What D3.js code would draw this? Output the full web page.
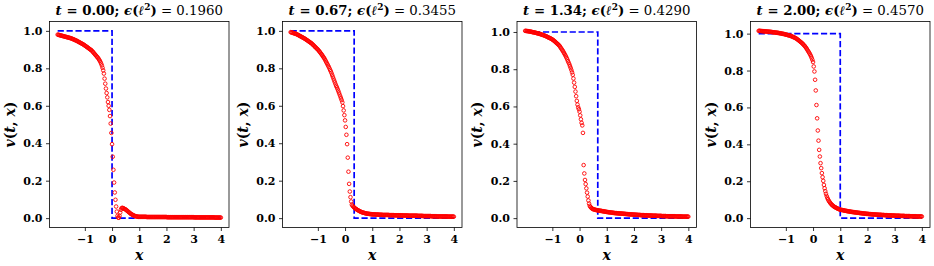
<!DOCTYPE html>
<html><head><meta charset="utf-8">
<script src="https://cdn.jsdelivr.net/npm/d3@7"></script>
<style>
html,body{margin:0;padding:0;background:#fff;}
svg text{font-family:"DejaVu Serif","Liberation Serif",serif;}
</style></head>
<body><svg id="chart" width="934" height="266"></svg>
<script>
// ---- data ----
const times = ["0.00", "0.67", "1.34", "2.00"];
const errors = ["0.1960", "0.3455", "0.4290", "0.4570"];
const shockX = [0, 0.335, 0.67, 1.0];
const exactY = [1, 1, 0, 0];
const gridStart = -2, gridEnd = 4, gridStep = 0.025;
const xTicks = [-1, 0, 1, 2, 3, 4];
const xTickLabels = ["\u22121", "0", "1", "2", "3", "4"];
const yTicks = [0, 0.2, 0.4, 0.6, 0.8, 1.0];
const yTickLabels = ["0.0", "0.2", "0.4", "0.6", "0.8", "1.0"];

const pred0 = [
.980,.979,.978,.977,.976,.975,.974,.973,.972,.971,.970,.969,.968,.967,.966,.965,.964,.963,.962,.961,.960,
.958,.957,.955,.954,.952,.950,.949,.947,.945,.943,.941,.939,.937,.935,.933,.931,.929,.927,.924,.922,
.919,.917,.914,.911,.909,.906,.903,.901,.898,.895,
.891,.887,.883,.878,.874,.870,.865,.861,.857,.852,
.846,.840,.833,.825,.815,.803,.789,.772,
.745,.718,.692,.668,.645,.620,.600,.578,.545,.505,.455,.395,
.328,.258,.190,.137,.098,.062,.035,.012,
.003,.002,.012,.030,.045,.053,.055,.054,.052,.050,.048,.046,
.043,.040,.037,.034,.031,.028,.025,.022,.020,.018,.016,.014,.012,.011,.010,.009,.008,.008,.007,.007,
.007,.007,.007,.007,.007,.007,.007,.007,.007,.007,.006,.006,.006,.006,.006,.006,.006,.006,.006,.006,
.006,.006,.006,.006,.006,.006,.006,.006,.006,.006,.006,.006,.006,.006,.006,.006,.006,.006,.006,.006,
.005,.005,.005,.005,.005,.005,.005,.005,.005,.005,.005,.005,.005,.005,.005,.005,.005,.005,.005,.005,
.005,.005,.005,.005,.005,.005,.005,.005,.005,.005,.005,.005,.005,.005,.005,.005,.005,.005,.005,.005,
.004,.004,.004,.004,.004,.004,.004,.004,.004,.004,.004,.004,.004,.004,.004,.004,.004,.004,.004,.004,
.004,.004,.004,.004,.004,.004,.004,.004,.004,.004,.003,.003,.003,.003,.003,.003,.003,.003,.003,.003
];
const pred1 = [
.993,.992,.991,.990,.988,.987,.986,.985,.983,.982,.980,
.978,.976,.974,.972,.970,.968,.966,.964,.962,.960,
.958,.955,.953,.950,.948,.945,.943,.940,.938,.935,
.932,.929,.925,.922,.918,.914,.911,.907,.904,.900,
.896,.891,.887,.882,.877,.872,.867,.861,.856,.850,
.843,.836,.829,.822,.815,.808,.800,.792,.784,.775,
.765,.755,.745,.735,.725,.715,
.706,.698,.689,.680,
.670,.660,.650,.640,
.630,.618,.598,.575,.550,.522,
.487,.445,.395,.323,.248,.183,.142,.112,.089,.072,
.066,.062,.058,.055,.052,.049,.047,.044,.042,.040,.038,.036,.034,.033,.031,.030,.029,.028,.027,.026,
.025,.024,.024,.023,.023,.022,.022,.021,.021,.020,
.020,.020,.020,.020,.019,.019,.019,.019,.019,.018,.018,.018,.018,.018,.017,.017,.017,.017,.017,.017,
.017,.017,.017,.017,.016,.016,.016,.016,.016,.016,.016,.016,.015,.015,.015,.015,.015,.015,.015,.015,
.015,.015,.015,.015,.014,.014,.014,.014,.014,.014,.014,.014,.013,.013,.013,.013,.013,.013,.013,.013,
.013,.013,.013,.013,.013,.013,.012,.012,.012,.012,.012,.012,.012,.012,.011,.011,.011,.011,.011,.011,
.011,.011,.011,.011,.011,.011,.010,.010,.010,.010,.010,.010,.010,.010,.009,.009,.009,.009,.009,.009,
.009,.009,.009,.009,.009,.009,.009,.009,.009,.009,.008,.008,.008,.008,.008,.008,.008,.008,.008,.008
];
const pred2 = [
1.006,1.006,1.005,1.005,1.004,1.004,1.003,1.002,1.002,1.001,1.000,
.999,.998,.998,.997,.996,.995,.994,.993,.992,.991,
.990,.989,.988,.986,.985,.984,.983,.981,.980,.978,
.977,.975,.973,.971,.969,.968,.966,.964,.962,.960,
.957,.954,.951,.948,.945,.941,.938,.935,.931,.928,
.923,.917,.912,.906,.901,.895,
.888,.882,.875,.868,
.860,.852,.843,.835,
.826,.816,.806,.795,
.783,.770,.750,.728,.705,.680,.655,.630,.610,.595,.585,.572,
.552,.531,.512,.498,.458,.285,.240,.205,
.183,.160,.137,.116,.095,.078,.066,.060,.056,.053,.050,.048,
.047,.046,.045,.044,.043,.042,.042,.041,.040,.040,.039,.039,.038,.037,.037,.036,.035,.035,.034,.033,
.033,.032,.032,.031,.031,.030,.030,.029,.029,.028,.028,.027,.027,.027,.026,.026,.026,.025,.025,.025,
.025,.024,.024,.024,.023,.023,.023,.022,.022,.022,.021,.021,.021,.020,.020,.020,.020,.019,.019,.019,
.019,.018,.018,.018,.018,.017,.017,.017,.017,.016,.016,.016,.016,.016,.015,.015,.015,.015,.015,.015,
.014,.014,.014,.014,.014,.014,.013,.013,.013,.013,.013,.013,.013,.012,.012,.012,.012,.012,.012,.012,
.011,.011,.011,.011,.011,.011,.011,.010,.010,.010,.010,.010,.010,.010,.010,.010,.010,.010,.010,.010,
.009,.009,.009,.009,.009,.009,.009,.009,.009,.009,.008,.008,.008,.008,.008,.008,.008,.008,.008,.008
];
const pred3 = [
1.015,1.015,1.015,1.014,1.014,1.014,1.013,1.013,1.013,1.012,1.012,
1.012,1.011,1.011,1.011,1.010,1.010,1.010,1.009,1.009,1.008,
1.008,1.007,1.007,1.006,1.006,1.005,1.005,1.004,1.004,1.003,
1.002,1.002,1.001,1.000,.999,.999,.998,.997,.996,.995,
.994,.993,.992,.991,.990,.989,.988,.986,.985,.983,
.981,.980,.978,.976,.974,.972,
.969,.966,.963,.960,
.957,.954,.951,.948,
.944,.940,.936,.932,
.927,.922,.916,.910,
.904,.898,.892,.885,
.877,.868,.858,.846,
.822,.795,.750,.692,.613,.541,.475,.420,.370,.334,.298,.271,.244,.222,.202,.180,.162,.146,.132,.120,
.110,.102,.095,.089,.084,.079,.075,.071,.068,.065,.062,.060,.058,.056,.054,.052,.050,.049,.047,.046,
.045,.044,.044,.043,.042,.041,.040,.040,.039,.038,.038,.037,.036,.036,.035,.034,.034,.033,.033,.032,
.032,.031,.031,.030,.030,.029,.029,.028,.028,.027,.027,.026,.026,.025,.025,.025,.024,.024,.023,.023,
.023,.022,.022,.022,.021,.021,.021,.020,.020,.020,.020,.019,.019,.019,.019,.018,.018,.018,.018,.018,
.017,.017,.017,.017,.016,.016,.016,.016,.016,.015,.015,.015,.015,.015,.015,.014,.014,.014,.014,.014,
.013,.013,.013,.013,.013,.013,.013,.012,.012,.012,.012,.012,.012,.012,.011,.011,.011,.011,.011,.011,
.011,.011,.010,.010,.010,.010,.010,.010,.010,.010,.010,.009,.009,.009,.009,.009,.009,.009,.009,.009
];
const predictions = [pred0, pred1, pred2, pred3];

// ---- layout ----
const lefts = [49.5, 282.5, 517, 750.5];
const plotW = 179.5, plotTop = 21.5, plotBottom = 227.5;
const FONT = "'DejaVu Serif','Liberation Serif',serif";
const svg = d3.select("#chart");

const xGrid = pred0.map((_, i) => +(gridStart + i * gridStep).toFixed(3));

predictions.forEach((pred, k) => {
  const L = lefts[k], R = L + plotW;
  const xr = gridEnd - gridStart;
  const x = d3.scaleLinear().domain([gridStart - 0.05 * xr, gridEnd + 0.05 * xr]).range([L, R]);
  const lo = Math.min(0, d3.min(pred)), hi = Math.max(1, d3.max(pred));
  const yr = hi - lo;
  const y = d3.scaleLinear().domain([lo - 0.05 * yr, hi + 0.05 * yr]).range([plotBottom, plotTop]);
  const g = svg.append("g");

  // exact solution (dashed blue)
  const exactX = [gridStart, shockX[k], shockX[k], gridEnd];
  const line = d3.line().x((d, i) => x(exactX[i])).y(d => y(d));
  g.append("path").attr("d", line(exactY))
    .attr("fill", "none").attr("stroke", "#0000ff").attr("stroke-width", 1.7)
    .attr("stroke-dasharray", "6.2,2.7");

  // prediction (open red circles)
  g.selectAll("circle").data(pred).join("circle")
    .attr("cx", (d, i) => x(xGrid[i])).attr("cy", d => y(d)).attr("r", 1.8)
    .attr("fill", "none").attr("stroke", "#ff0000").attr("stroke-width", 0.9);

  // axes
  const xa = g.append("g").attr("transform", `translate(0,${plotBottom})`)
    .call(d3.axisBottom(x).tickValues(xTicks).tickFormat((d, i) => xTickLabels[i]).tickSize(3.5).tickPadding(2.5));
  const ya = g.append("g").attr("transform", `translate(${L},0)`)
    .call(d3.axisLeft(y).tickValues(yTicks).tickFormat((d, i) => yTickLabels[i]).tickSize(3.5).tickPadding(3.5));
  [xa, ya].forEach(a => {
    a.select(".domain").remove();
    a.selectAll("line").attr("stroke", "#000").attr("stroke-width", 0.8);
    a.selectAll("text").attr("font-family", FONT)
      .attr("font-size", 11).attr("font-weight", "bold").attr("fill", "#000");
  });
  xa.selectAll("text").attr("dy", "0.85em");

  // frame
  g.append("rect").attr("x", L).attr("y", plotTop).attr("width", plotW).attr("height", plotBottom - plotTop)
    .attr("fill", "none").attr("stroke", "#000").attr("stroke-width", 0.8);

  // title
  const cx = (L + R) / 2;
  const t = g.append("text").attr("x", cx).attr("y", 15).attr("text-anchor", "middle")
    .attr("font-family", FONT).attr("font-size", 13.3).attr("fill", "#000");
  t.append("tspan").attr("font-weight", "bold").attr("font-style", "italic").text("t");
  t.append("tspan").attr("font-weight", "bold").text(" = " + times[k] + "; ");
  t.append("tspan").attr("font-weight", "bold").attr("font-style", "italic").text("\u03F5");
  t.append("tspan").attr("font-weight", "bold").text("(");
  t.append("tspan").attr("font-weight", "bold").attr("font-style", "italic").text("\u2113");
  t.append("tspan").attr("font-weight", "bold").attr("font-size", 9).attr("dy", -5).text("2");
  t.append("tspan").attr("font-weight", "bold").attr("dy", 5).text(")");
  t.append("tspan").text(" = " + errors[k]);

  // axis labels
  g.append("text").attr("x", cx).attr("y", 260).attr("text-anchor", "middle")
    .attr("font-family", FONT).attr("font-size", 14).attr("font-style", "italic").attr("font-weight", "bold").text("x");
  const yl = g.append("text").attr("transform", `translate(${L - 35},${(plotTop + plotBottom) / 2}) rotate(-90)`)
    .attr("text-anchor", "middle").attr("font-family", FONT).attr("font-size", 14).attr("font-weight", "bold");
  yl.append("tspan").attr("font-style", "italic").text("v");
  yl.append("tspan").text("(");
  yl.append("tspan").attr("font-style", "italic").text("t");
  yl.append("tspan").text(", ");
  yl.append("tspan").attr("font-style", "italic").text("x");
  yl.append("tspan").text(")");
});
</script>
</body></html>
